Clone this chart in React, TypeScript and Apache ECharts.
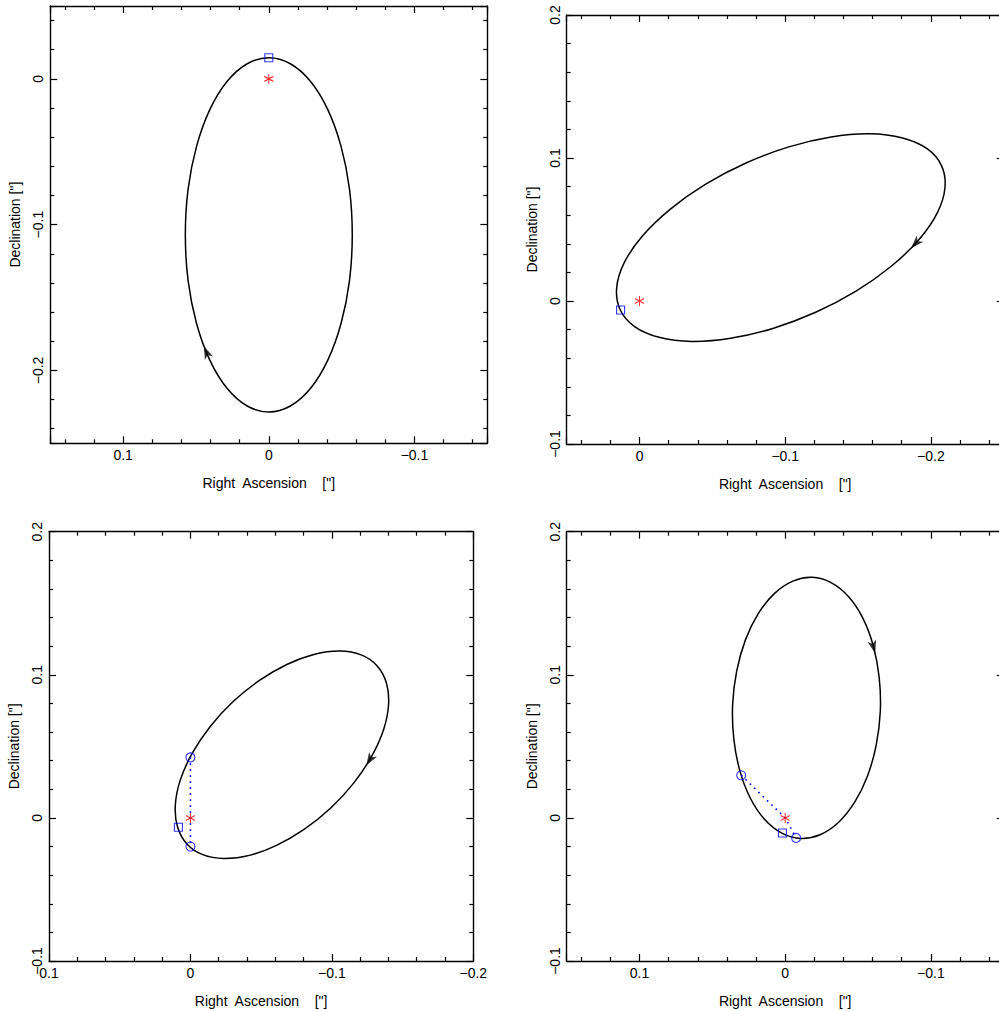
import React, { useEffect, useRef } from 'react';
import * as echarts from 'echarts';

// ---- Data (arcsec) ----
// Apparent orbits: points around each closed loop
const orbit1: number[][] = [
  [0, 0.0145], [0.0148, 0.0104], [0.0287, -0.0018], [0.0405, -0.0211], [0.0496, -0.0463],
  [0.0554, -0.0756], [0.0573, -0.107], [0.0554, -0.1384], [0.0496, -0.1678], [0.0405, -0.1929],
  [0.0287, -0.2122], [0.0148, -0.2244], [0, -0.2285], [-0.0148, -0.2244], [-0.0287, -0.2122],
  [-0.0405, -0.1929], [-0.0496, -0.1678], [-0.0554, -0.1384], [-0.0573, -0.107], [-0.0554, -0.0756],
  [-0.0496, -0.0463], [-0.0405, -0.0211], [-0.0287, -0.0018], [-0.0148, 0.0104],
];
const orbit2: number[][] = [
  [0.0133, -0.0061], [0.0157, 0.0092], [0.0105, 0.0268], [-0.0021, 0.0456], [-0.0212, 0.0643],
  [-0.0454, 0.0817], [-0.0731, 0.0965], [-0.1025, 0.1078], [-0.1315, 0.1147], [-0.1581, 0.1169],
  [-0.1806, 0.1140], [-0.1974, 0.1065], [-0.2073, 0.0947], [-0.2097, 0.0794], [-0.2045, 0.0618],
  [-0.1919, 0.0430], [-0.1728, 0.0243], [-0.1486, 0.0069], [-0.1209, -0.0079], [-0.0915, -0.0192],
  [-0.0625, -0.0261], [-0.0359, -0.0283], [-0.0134, -0.0254], [0.0034, -0.0179],
];
const orbit3: number[][] = [
  [0.0025, -0.0182], [0.0091, -0.0064], [0.0107, 0.0088], [0.0072, 0.0264], [-0.0013, 0.0452],
  [-0.0140, 0.0639], [-0.0302, 0.0813], [-0.0488, 0.0961], [-0.0685, 0.1074], [-0.0879, 0.1144],
  [-0.1057, 0.1166], [-0.1207, 0.1139], [-0.1319, 0.1064], [-0.1385, 0.0946], [-0.1401, 0.0794],
  [-0.1366, 0.0618], [-0.1281, 0.0430], [-0.1154, 0.0243], [-0.0992, 0.0069], [-0.0806, -0.0079],
  [-0.0609, -0.0192], [-0.0416, -0.0262], [-0.0237, -0.0284], [-0.0087, -0.0257],
];
const orbit4: number[][] = [
  [-0.0186, 0.1681], [-0.0053, 0.1655], [0.0073, 0.1569], [0.0184, 0.1429], [0.0273, 0.1244],
  [0.0333, 0.1026], [0.0361, 0.0791], [0.0353, 0.0554], [0.0312, 0.0332], [0.0240, 0.0139],
  [0.0142, -0.0010], [0.0023, -0.0107], [-0.0106, -0.0144], [-0.0239, -0.0118], [-0.0365, -0.0032],
  [-0.0476, 0.0108], [-0.0565, 0.0293], [-0.0625, 0.0511], [-0.0653, 0.0747], [-0.0645, 0.0983],
  [-0.0604, 0.1205], [-0.0532, 0.1398], [-0.0434, 0.1547], [-0.0315, 0.1644],
];

// Primary star (origin) and periastron markers
const starPos: number[][] = [[0, 0]];
const square1: number[][] = [[0, 0.0145]];
const square2: number[][] = [[0.0130, -0.0063]];
const square3: number[][] = [[0.0085, -0.0065]];
const square4: number[][] = [[0.0019, -0.0105]];

// Nodes (circles) and the dotted line of nodes
const nodes3: number[][] = [[0, 0.0423], [0, -0.0200]];
const nodes4: number[][] = [[0.0302, 0.0298], [-0.0075, -0.0140]];
const nodeLine3: number[][] = [[0, 0.0423], [0, 0], [0, -0.0200]];
const nodeLine4: number[][] = [[0.0302, 0.0298], [0, 0], [-0.0075, -0.0140]];

// Direction-of-motion arrows: [x, y, rotation in degrees]
const arrow1: number[] = [0.0428, -0.1876, 23];
const arrow2: number[] = [-0.1895, 0.0403, 137];
const arrow3: number[] = [-0.1267, 0.0405, 149];
const arrow4: number[] = [-0.0606, 0.1195, 195];

// Axis ranges [min, max]
const xRanges: number[][] = [[-0.15, 0.15], [-0.25, 0.05], [-0.2, 0.1], [-0.15, 0.15]];
const yRanges: number[][] = [[-0.25, 0.05], [-0.1, 0.2], [-0.1, 0.2], [-0.1, 0.2]];

const xTitle = 'Right\u00A0 Ascension\u00A0\u00A0\u00A0\u00A0["]';
const yTitle = 'Declination ["]';

const ARROW = 'path://M5,0 L10,13 L5,9.5 L0,13 Z';
const ASTERISK = 'path://M5,0 L5,10 M0.67,2.5 L9.33,7.5 M0.67,7.5 L9.33,2.5';
const FONT = "'Liberation Sans', Arial, Helvetica, sans-serif";

const fmt = (v: number) => {
  const t = v * 10;
  if (Math.abs(t - Math.round(t)) > 1e-6) return '';
  const r = Math.round(t);
  if (r === 0) return '0';
  return (r < 0 ? '\u2212' : '') + '0.' + Math.abs(r);
};

export default function App() {
  const ref = useRef<HTMLDivElement>(null);
  useEffect(() => {
    document.body.style.margin = '0';
    document.body.style.overflow = 'hidden';
    if (!ref.current) return;
    const chart = echarts.init(ref.current, undefined, { renderer: 'svg' });

    const rects = [
      { left: 50.3, top: 6, width: 437, height: 437.3 },
      { left: 566.7, top: 15, width: 437, height: 429 },
      { left: 49, top: 531.7, width: 424.3, height: 429.3 },
      { left: 566.7, top: 531.7, width: 437, height: 429.3 },
    ];
    const lineStyle = { color: '#000', width: 1.4 };
    const tick = { show: true, inside: true, length: 7, lineStyle: { color: '#000', width: 1.2 } };
    const minor = { show: true, splitNumber: 5, length: 4, lineStyle: { color: '#000', width: 1.2 } };
    const labelText = { fontSize: 14, color: '#000', fontFamily: FONT };

    const grids: any[] = [];
    const xAxes: any[] = [];
    const yAxes: any[] = [];
    rects.forEach((r, i) => {
      grids.push({ ...r, containLabel: false, outerBoundsMode: 'none' });
      const xBase = {
        gridIndex: i, type: 'value', min: xRanges[i][0], max: xRanges[i][1], inverse: true,
        splitNumber: 3, minInterval: 0.1, maxInterval: 0.1,
        axisLine: { show: true, onZero: false, lineStyle },
        axisTick: tick, minorTick: minor, splitLine: { show: false },
      };
      xAxes.push({
        ...xBase, position: 'bottom',
        name: xTitle, nameLocation: 'middle', nameGap: 33, nameTextStyle: labelText,
        axisLabel: { ...labelText, margin: 5, formatter: fmt },
      });
      xAxes.push({ ...xBase, position: 'top', axisLabel: { show: false } });
      const yBase = {
        gridIndex: i, type: 'value', min: yRanges[i][0], max: yRanges[i][1],
        splitNumber: 3, minInterval: 0.1, maxInterval: 0.1,
        axisLine: { show: true, onZero: false, lineStyle },
        axisTick: tick, minorTick: minor, splitLine: { show: false },
      };
      yAxes.push({
        ...yBase, position: 'left',
        name: yTitle, nameLocation: 'middle', nameGap: 28, nameTextStyle: labelText,
        axisLabel: { ...labelText, margin: 5, rotate: 90, formatter: fmt },
      });
      yAxes.push({ ...yBase, position: 'right', axisLabel: { show: false } });
    });

    const orbits = [orbit1, orbit2, orbit3, orbit4];
    const squares = [square1, square2, square3, square4];
    const arrows = [arrow1, arrow2, arrow3, arrow4];
    const series: any[] = [];
    orbits.forEach((o, i) => {
      const ax = { xAxisIndex: 2 * i, yAxisIndex: 2 * i };
      series.push({
        type: 'custom', ...ax, data: o, silent: true, clip: true, z: 2,
        renderItem: (params: any, api: any) => {
          if (params.dataIndex !== 0) return null;
          return {
            type: 'polygon',
            shape: { points: o.map((p) => api.coord(p)), smooth: 0.34 },
            style: { fill: 'none', stroke: '#000', lineWidth: 1.5 },
          };
        },
      });
      series.push({
        type: 'scatter', ...ax, silent: true, z: 4,
        data: [{ value: [arrows[i][0], arrows[i][1]], symbolRotate: arrows[i][2] }],
        symbol: ARROW, symbolSize: [9, 13], itemStyle: { color: '#000' },
      });
    });
    const nodeLines = [null, null, nodeLine3, nodeLine4];
    const nodeSets = [null, null, nodes3, nodes4];
    nodeLines.forEach((nl, i) => {
      if (!nl) return;
      series.push({
        type: 'line', xAxisIndex: 2 * i, yAxisIndex: 2 * i, data: nl, showSymbol: false, silent: true,
        lineStyle: { color: '#0000ff', width: 1.6, type: [1.6, 4.4] }, z: 3,
      });
      series.push({
        type: 'scatter', xAxisIndex: 2 * i, yAxisIndex: 2 * i, data: nodeSets[i], silent: true, z: 5,
        symbol: 'circle', symbolSize: 9,
        itemStyle: { color: 'rgba(0,0,0,0)', borderColor: '#0000ff', borderWidth: 1.1 },
      });
    });
    squares.forEach((s, i) => {
      series.push({
        type: 'scatter', xAxisIndex: 2 * i, yAxisIndex: 2 * i, data: s, silent: true, z: 5,
        symbol: 'rect', symbolSize: 8,
        itemStyle: { color: 'rgba(0,0,0,0)', borderColor: '#0000ff', borderWidth: 1.1 },
      });
      series.push({
        type: 'scatter', xAxisIndex: 2 * i, yAxisIndex: 2 * i, data: starPos, silent: true, z: 6,
        symbol: ASTERISK, symbolSize: [9, 10],
        itemStyle: { color: 'rgba(0,0,0,0)', borderColor: '#ff0000', borderWidth: 1.1 },
      });
    });

    chart.setOption({
      animation: false,
      backgroundColor: '#fff',
      grid: grids,
      xAxis: xAxes,
      yAxis: yAxes,
      series,
    });
    return () => chart.dispose();
  }, []);
  return (
    <div
      ref={ref}
      style={{ position: 'absolute', left: 0, top: 0, width: 999, height: 1011 }}
    />
  );
}
